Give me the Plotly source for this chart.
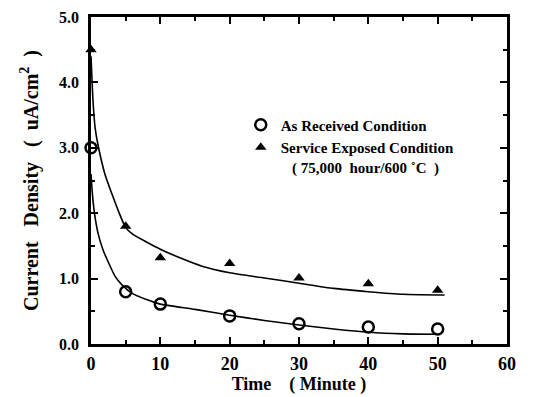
import plotly.graph_objects as go

# measured data
time_pts = [0, 5, 10, 20, 30, 40, 50]
as_received = [3.0, 0.80, 0.61, 0.43, 0.31, 0.26, 0.23]
service_exposed = [4.5, 1.80, 1.32, 1.23, 1.01, 0.92, 0.82]

# fitted curves
fit_up_x = [0, 0.3, 0.6, 1.0, 2, 3, 4, 5, 6, 8, 10, 13, 16, 20, 25, 30, 35, 40, 45, 50, 51]
fit_up_y = [4.4, 3.7, 3.3, 3.05, 2.6, 2.3, 2.02, 1.78, 1.68, 1.56, 1.45, 1.31, 1.19, 1.09, 1.01, 0.93, 0.85, 0.8, 0.76, 0.75, 0.75]
fit_lo_x = [0, 0.2, 0.5, 1.0, 1.7, 2.5, 3.5, 4.5, 6, 8, 10, 15, 20, 25, 30, 35, 40, 45, 50]
fit_lo_y = [2.6, 2.3, 2.0, 1.7, 1.45, 1.25, 1.03, 0.9, 0.77, 0.68, 0.61, 0.53, 0.44, 0.36, 0.29, 0.23, 0.18, 0.155, 0.15]

x_ticks = [0, 10, 20, 30, 40, 50, 60]
y_ticks = [0.0, 1.0, 2.0, 3.0, 4.0, 5.0]

FONT = "Liberation Serif"

fig = go.Figure()
fig.add_trace(go.Scatter(x=fit_up_x, y=fit_up_y, mode="lines", line=dict(color="black", width=1.6, shape="spline", smoothing=0.6),
                         showlegend=False, hoverinfo="skip"))
fig.add_trace(go.Scatter(x=fit_lo_x, y=fit_lo_y, mode="lines", line=dict(color="black", width=1.6, shape="spline", smoothing=0.6),
                         showlegend=False, hoverinfo="skip"))
fig.add_trace(go.Scatter(x=time_pts, y=as_received, mode="markers", name="As Received Condition",
                         marker=dict(symbol="circle-open", size=11, color="black", line=dict(width=2.5, color="black")),
                         cliponaxis=False))
fig.add_trace(go.Scatter(x=time_pts, y=service_exposed, mode="markers",
                         name="Service Exposed Condition<br>\u00a0\u00a0\u00a0( 75,000\u00a0\u00a0hour/600 \u02daC\u00a0\u00a0)",
                         marker=dict(symbol="triangle-up", size=10, color="black"),
                         cliponaxis=False))

axis_common = dict(showline=True, linecolor="black", linewidth=2.5, mirror="ticks",
                   ticks="inside", ticklen=7, tickwidth=2, tickcolor="black",
                   showgrid=False, zeroline=False, automargin=False,
                   ticklabeloverflow="allow")

fig.update_xaxes(range=[0, 60], tickvals=x_ticks, ticktext=[f"{v}" for v in x_ticks],
                 tickfont=dict(family=FONT, size=18, color="black", weight="bold"),
                 ticklabelstandoff=2,
                 minor=dict(ticks="inside", ticklen=4, tickwidth=1.5, dtick=5, tickcolor="black"),
                 title=dict(text="Time\u00a0\u00a0\u00a0\u00a0(\u00a0Minute\u00a0)", font=dict(family=FONT, size=18, color="black", weight="bold"), standoff=2),
                 **axis_common)
fig.update_yaxes(range=[0, 5], tickvals=y_ticks, ticktext=[f"{v:.1f}" for v in y_ticks],
                 tickfont=dict(family=FONT, size=16, color="black", weight="bold"),
                 ticklabelstandoff=6,
                 minor=dict(ticks="inside", ticklen=4, tickwidth=1.5, dtick=0.5, tickcolor="black"),
                 title=dict(text="Current\u00a0\u00a0\u00a0Density\u00a0\u00a0\u00a0(\u00a0\u00a0uA/cm<sup>2</sup>\u00a0\u00a0)",
                            font=dict(family=FONT, size=20, color="black", weight="bold"), standoff=16),
                 **axis_common)

# the page puts the figure 8px in from the top-left corner, so the figure is sized to fit
fig.update_layout(
    width=530, height=389,
    margin=dict(l=83, r=31, t=9, b=53),
    paper_bgcolor="white", plot_bgcolor="white",
    legend=dict(x=0.36, y=0.72, xanchor="left", yanchor="top", valign="top",
                font=dict(family=FONT, size=15, color="black", weight="bold"),
                bgcolor="rgba(0,0,0,0)", itemwidth=30),
)

fig.write_html("out.html")
